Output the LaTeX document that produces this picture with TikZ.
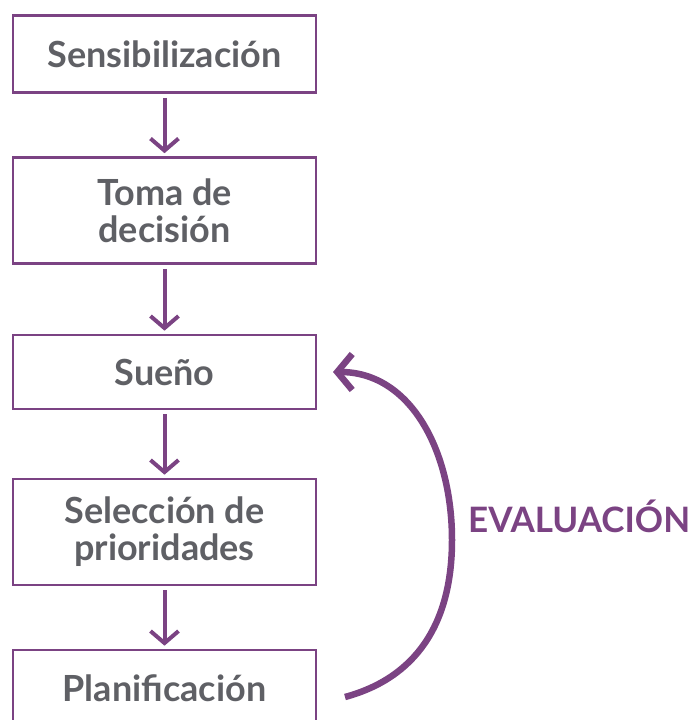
\documentclass[tikz,border=0pt]{standalone}
\usepackage{fontspec}
\setmainfont{Lato}
\usetikzlibrary{arrows.meta}
\definecolor{purp}{HTML}{7B4383}
\definecolor{txt}{HTML}{5F6065}
\begin{document}
\begin{tikzpicture}[x=1pt,y=-1pt,
  stepbox/.style={draw=purp,line width=2.6pt,minimum width=303pt,inner sep=0pt,
    align=center,text=txt,font=\fontsize{36}{37}\selectfont\bfseries},
  flow/.style={draw=purp,line width=4pt,-{Straight Barb[length=12pt,width=28pt]}},
  loop/.style={draw=purp,line width=6.5pt,-{Straight Barb[length=15pt,width=36pt]}}]
\useasboundingbox (0,0) rectangle (700,720);
\node[stepbox,minimum height=77pt] (s1) at (164.5,54) {Sensibilización};
\node[stepbox,minimum height=106pt] (s2) at (164.5,210.5) {Toma de\\decisión};
\node[stepbox,minimum height=74pt] (s3) at (164.5,372) {Sueño};
\node[stepbox,minimum height=106pt] (s4) at (164.5,532) {Selección de\\prioridades};
\node[stepbox,minimum height=77pt] (s5) at (164.5,688.5) {Planificación};
\draw[flow,shorten <=4pt,shorten >=3pt] (s1) -- (s2);
\draw[flow,shorten <=4pt,shorten >=3pt] (s2) -- (s3);
\draw[flow,shorten <=4pt,shorten >=3pt] (s3) -- (s4);
\draw[flow,shorten <=4pt,shorten >=3pt] (s4) -- (s5);
\coordinate (ls) at (345,697);
\coordinate (lm) at (452,540);
\coordinate (le) at (333,372);
\draw[loop] (ls) .. controls (415,678) and (452,625) .. (lm) .. controls (452,450) and (410,372) .. (le);
\node[anchor=base west,inner sep=0pt,text=purp,font=\fontsize{35}{40}\selectfont\bfseries] (ev) at (468,532) {EVALUACIÓN};
\end{tikzpicture}
\end{document}
